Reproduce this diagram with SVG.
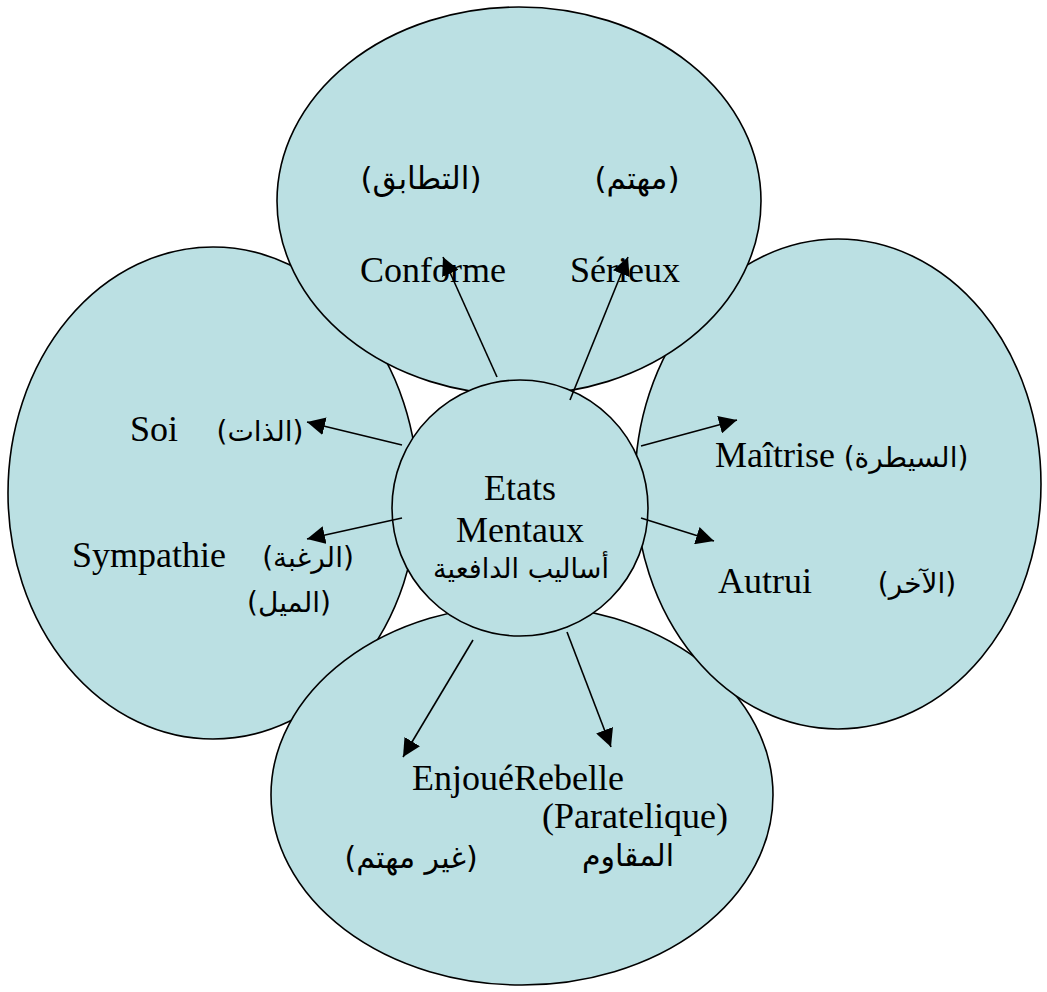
<svg xmlns="http://www.w3.org/2000/svg" width="1047" height="992" viewBox="0 0 1047 992">
<style>
.shape{fill:#BBE0E3;stroke:#000;stroke-width:1.6}
.t{font-family:"Liberation Serif","Times New Roman",serif;font-size:36px;fill:#000}
.a{font-family:"DejaVu Sans","Liberation Serif",sans-serif;font-size:28px;fill:#000}
.c{stroke:#000;stroke-width:1.6;fill:none;marker-end:url(#ah)}
</style>
<defs>
<marker id="ah" viewBox="0 0 10 10" refX="10" refY="5" markerWidth="18" markerHeight="18" markerUnits="userSpaceOnUse" orient="auto">
<path d="M0,0 L10,5 L0,10 Z" fill="#000"/>
</marker>
</defs>
<rect width="1047" height="992" fill="#fff"/>
<g id="node-left">
<ellipse class="shape" cx="213" cy="493" rx="205" ry="246"/>
<text class="t" x="130" y="441">Soi</text>
<text class="a" x="260" y="441" text-anchor="middle">(الذات)</text>
<text class="t" x="72" y="567">Sympathie</text>
<text class="a" x="308" y="567" text-anchor="middle">(الرغبة)</text>
<text class="a" x="289" y="612" text-anchor="middle">(الميل)</text>
</g>
<g id="node-bottom">
<ellipse class="shape" cx="522" cy="795" rx="251" ry="190"/>
<text class="t" x="412" y="790">EnjouéRebelle</text>
<text class="t" x="542" y="828">(Paratelique)</text>
<text class="a" x="411" y="868" text-anchor="middle" style="font-size:30px">(غير مهتم)</text>
<text class="a" x="628" y="866" text-anchor="middle" style="font-size:30px">المقاوم</text>
</g>
<g id="node-right">
<ellipse class="shape" cx="838" cy="484" rx="203" ry="245"/>
<text class="t" x="715" y="467">Maîtrise</text>
<text class="a" x="906" y="467" text-anchor="middle">(السيطرة)</text>
<text class="t" x="718" y="593">Autrui</text>
<text class="a" x="917" y="593" text-anchor="middle">(الآخر)</text>
</g>
<g id="node-top">
<ellipse class="shape" cx="519" cy="201" rx="242" ry="194"/>
<text class="a" x="421" y="189" text-anchor="middle" style="font-size:31px">(التطابق)</text>
<text class="a" x="637" y="189" text-anchor="middle" style="font-size:31px">(مهتم)</text>
<text class="t" x="360" y="282">Conforme</text>
<text class="t" x="570" y="282">Sérieux</text>
</g>
<g id="node-center">
<ellipse class="shape" cx="520" cy="508" rx="128" ry="128"/>
<text class="t" x="520" y="500" text-anchor="middle">Etats</text>
<text class="t" x="520" y="542" text-anchor="middle">Mentaux</text>
<text class="a" x="521" y="578" text-anchor="middle" style="font-size:27px">أساليب الدافعية</text>
</g>
<g id="connectors">
<line class="c" x1="497" y1="377" x2="443" y2="257"/>
<line class="c" x1="570" y1="400" x2="628" y2="257"/>
<line class="c" x1="402" y1="445" x2="307" y2="422"/>
<line class="c" x1="402" y1="518" x2="307" y2="539"/>
<line class="c" x1="641" y1="446" x2="737" y2="420"/>
<line class="c" x1="641" y1="518" x2="714" y2="541"/>
<line class="c" x1="473" y1="640" x2="403" y2="757"/>
<line class="c" x1="567" y1="632" x2="611" y2="747"/>
</g>
</svg>
